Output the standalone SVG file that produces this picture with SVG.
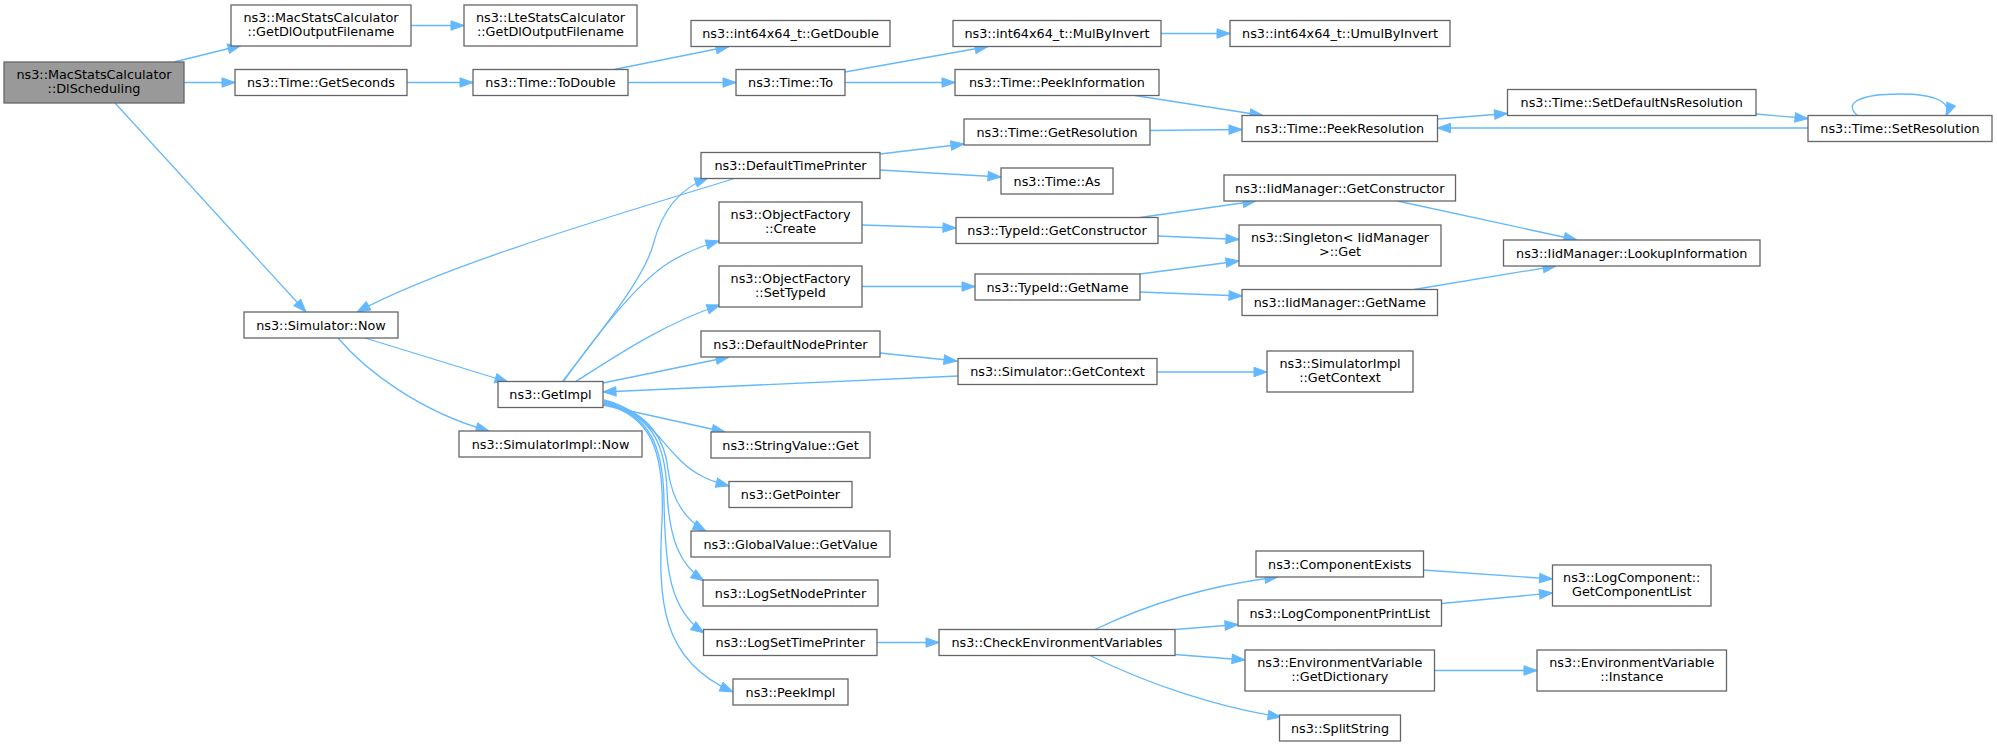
<svg xmlns="http://www.w3.org/2000/svg" width="1997" height="745" viewBox="0 0 1997 745">
<style>
.node rect{fill:#ffffff;stroke:#666666;stroke-width:1.3}
.main rect{fill:#999999;stroke:#666666;stroke-width:1.3}
text{font-family:"DejaVu Sans","Liberation Sans",sans-serif;font-size:12.8px;text-anchor:middle;fill:#000000}
.edges path{fill:none;stroke:#63b8ff;stroke-width:1.3;marker-end:url(#ah)}
</style>
<defs>
<marker id="ah" markerUnits="userSpaceOnUse" markerWidth="15" markerHeight="11" refX="13" refY="4.7" orient="auto" overflow="visible">
<path d="M0,0 L13,4.7 L0,9.4 z" fill="#63b8ff" stroke="#63b8ff" stroke-width="1"/>
</marker>
</defs>
<rect width="1997" height="745" fill="#ffffff"/>
<g class="edges">
<path d="M174,62 L241,45.5"/>
<path d="M411,25.5 L464,25.5"/>
<path d="M184,82.5 L235,82.5"/>
<path d="M407,82.5 L473,82.5"/>
<path d="M614,69.5 L729,46.5"/>
<path d="M628,82.5 L736,82.5"/>
<path d="M845,72 L988,46.5"/>
<path d="M1161,33.5 L1230,33.5"/>
<path d="M845,82.5 L955,82.5"/>
<path d="M1135,95.5 L1263,115.5"/>
<path d="M1150,130.5 L1242,129.5"/>
<path d="M1437.5,119 L1507.5,113.5"/>
<path d="M1756,114 L1808,118.5"/>
<path d="M1808,128 L1437.5,128"/>
<path d="M1858,116 C1842,103 1860,94 1900,94 C1935,94 1952,102 1946,116"/>
<path d="M880,154 L964,144"/>
<path d="M880,170 L1001,177"/>
<path d="M736,178 C640,208 450,262 357,312"/>
<path d="M562,382 C610,320 645,275 653,245 C662,210 680,188 708,178"/>
<path d="M563,382 C600,330 640,280 670,262 C690,250 705,245 719,241"/>
<path d="M575,382 C610,360 660,325 720,305"/>
<path d="M603,383 L729,357"/>
<path d="M958,376 L603,392"/>
<path d="M365,338 L508,382"/>
<path d="M338,338 C365,370 420,412 489,431"/>
<path d="M115,103 L306,312"/>
<path d="M603,405 L725,432"/>
<path d="M604,400 C640,408 660,440 680,460 C695,475 710,481 729,486"/>
<path d="M604,401 C650,412 665,440 668,470 C672,500 685,520 706,531"/>
<path d="M604,402 C650,415 665,440 667,490 C669,540 680,565 704,581"/>
<path d="M604,403 C650,415 663,445 664,500 C665,570 670,610 704,633"/>
<path d="M604,404 C650,415 665,450 662,520 C658,600 660,660 733,692"/>
<path d="M880,353 L957,361"/>
<path d="M862,225 L956,228"/>
<path d="M1140,217.5 L1256,201"/>
<path d="M1158,236 L1239,239.5"/>
<path d="M862,286.5 L975,286.5"/>
<path d="M1140,274 L1239,261"/>
<path d="M1140,292 L1242,296"/>
<path d="M1397.5,201 L1577,240"/>
<path d="M1414,289.5 L1556,266"/>
<path d="M1157,372 L1267,372"/>
<path d="M877,642.5 L939,642.5"/>
<path d="M1095,629.5 C1150,603 1210,585 1278,577"/>
<path d="M1175,629.5 L1238,624.5"/>
<path d="M1175,654.5 L1245,660"/>
<path d="M1090,655.5 C1150,685 1220,708 1281,717"/>
<path d="M1423.5,570 L1552.5,579"/>
<path d="M1441.5,603.5 L1552.5,593"/>
<path d="M1434.5,670.5 L1537,670.5"/>
</g>
<g id="n_main" class="main"><rect x="4" y="62" width="180" height="41"/><text x="94" y="79">ns3::MacStatsCalculator</text><text x="94" y="93.3">::DlScheduling</text></g>
<g id="n_mscgdof" class="node"><rect x="231" y="5" width="180" height="41"/><text x="321" y="22">ns3::MacStatsCalculator</text><text x="321" y="36.3">::GetDlOutputFilename</text></g>
<g id="n_lscgdof" class="node"><rect x="464" y="5" width="173" height="41"/><text x="550.5" y="22">ns3::LteStatsCalculator</text><text x="550.5" y="36.3">::GetDlOutputFilename</text></g>
<g id="n_getseconds" class="node"><rect x="235" y="69.5" width="172" height="26"/><text x="321" y="87">ns3::Time::GetSeconds</text></g>
<g id="n_todouble" class="node"><rect x="473" y="69.5" width="155" height="26"/><text x="550.5" y="87">ns3::Time::ToDouble</text></g>
<g id="n_getdouble" class="node"><rect x="691" y="20.5" width="199" height="26"/><text x="790.5" y="38">ns3::int64x64_t::GetDouble</text></g>
<g id="n_to" class="node"><rect x="736" y="69.5" width="109" height="26"/><text x="790.5" y="87">ns3::Time::To</text></g>
<g id="n_mulbyinvert" class="node"><rect x="953" y="20.5" width="208" height="26"/><text x="1057" y="38">ns3::int64x64_t::MulByInvert</text></g>
<g id="n_umulbyinvert" class="node"><rect x="1230" y="20.5" width="220" height="26"/><text x="1340" y="38">ns3::int64x64_t::UmulByInvert</text></g>
<g id="n_peekinfo" class="node"><rect x="955" y="69.5" width="204" height="26"/><text x="1057" y="87">ns3::Time::PeekInformation</text></g>
<g id="n_getres" class="node"><rect x="964" y="119" width="186" height="26"/><text x="1057" y="136.5">ns3::Time::GetResolution</text></g>
<g id="n_peekres" class="node"><rect x="1242" y="115.5" width="195.5" height="26"/><text x="1339.75" y="133">ns3::Time::PeekResolution</text></g>
<g id="n_setdefns" class="node"><rect x="1507.5" y="89.5" width="248.5" height="26"/><text x="1631.75" y="107">ns3::Time::SetDefaultNsResolution</text></g>
<g id="n_setres" class="node"><rect x="1808" y="115.5" width="184" height="26"/><text x="1900" y="133">ns3::Time::SetResolution</text></g>
<g id="n_dtp" class="node"><rect x="701" y="152.5" width="179" height="26"/><text x="790.5" y="170">ns3::DefaultTimePrinter</text></g>
<g id="n_as" class="node"><rect x="1001" y="168" width="112" height="26"/><text x="1057" y="185.5">ns3::Time::As</text></g>
<g id="n_iidgetctor" class="node"><rect x="1224" y="175" width="231.5" height="26"/><text x="1339.75" y="192.5">ns3::IidManager::GetConstructor</text></g>
<g id="n_ofcreate" class="node"><rect x="719" y="202" width="143" height="41"/><text x="790.5" y="219">ns3::ObjectFactory</text><text x="790.5" y="233.3">::Create</text></g>
<g id="n_tidgetctor" class="node"><rect x="956" y="217.5" width="202" height="26"/><text x="1057" y="235">ns3::TypeId::GetConstructor</text></g>
<g id="n_singleton" class="node"><rect x="1239" y="225" width="202" height="41"/><text x="1340" y="242">ns3::Singleton&lt; IidManager</text><text x="1340" y="256.3">&gt;::Get</text></g>
<g id="n_lookup" class="node"><rect x="1503.5" y="240" width="256.5" height="26"/><text x="1631.75" y="257.5">ns3::IidManager::LookupInformation</text></g>
<g id="n_ofsettypeid" class="node"><rect x="719" y="266" width="143" height="41"/><text x="790.5" y="283">ns3::ObjectFactory</text><text x="790.5" y="297.3">::SetTypeId</text></g>
<g id="n_tidgetname" class="node"><rect x="975" y="274" width="165" height="26"/><text x="1057.5" y="291.5">ns3::TypeId::GetName</text></g>
<g id="n_iidgetname" class="node"><rect x="1242" y="289.5" width="195.5" height="26"/><text x="1339.75" y="307">ns3::IidManager::GetName</text></g>
<g id="n_simnow" class="node"><rect x="244" y="312" width="154" height="26"/><text x="321" y="329.5">ns3::Simulator::Now</text></g>
<g id="n_dnp" class="node"><rect x="701" y="331" width="179" height="26"/><text x="790.5" y="348.5">ns3::DefaultNodePrinter</text></g>
<g id="n_simgetctx" class="node"><rect x="958" y="358.5" width="199" height="26"/><text x="1057.5" y="376">ns3::Simulator::GetContext</text></g>
<g id="n_simimplgetctx" class="node"><rect x="1267" y="351" width="146" height="41"/><text x="1340" y="368">ns3::SimulatorImpl</text><text x="1340" y="382.3">::GetContext</text></g>
<g id="n_getimpl" class="node"><rect x="498" y="381.5" width="105" height="26"/><text x="550.5" y="399">ns3::GetImpl</text></g>
<g id="n_simimplnow" class="node"><rect x="459" y="431" width="183" height="26"/><text x="550.5" y="448.5">ns3::SimulatorImpl::Now</text></g>
<g id="n_stringvalue" class="node"><rect x="711" y="432" width="159" height="26"/><text x="790.5" y="449.5">ns3::StringValue::Get</text></g>
<g id="n_getpointer" class="node"><rect x="729" y="481.5" width="123" height="26"/><text x="790.5" y="499">ns3::GetPointer</text></g>
<g id="n_globalvalue" class="node"><rect x="691" y="531" width="199" height="26"/><text x="790.5" y="548.5">ns3::GlobalValue::GetValue</text></g>
<g id="n_compexists" class="node"><rect x="1256" y="551" width="167.5" height="26"/><text x="1339.75" y="568.5">ns3::ComponentExists</text></g>
<g id="n_logcomplist" class="node"><rect x="1552.5" y="565" width="158.5" height="41"/><text x="1631.75" y="582">ns3::LogComponent::</text><text x="1631.75" y="596.3">GetComponentList</text></g>
<g id="n_lognodeprinter" class="node"><rect x="703" y="580" width="175" height="26"/><text x="790.5" y="597.5">ns3::LogSetNodePrinter</text></g>
<g id="n_logcompprintlist" class="node"><rect x="1238" y="600" width="203.5" height="26"/><text x="1339.75" y="617.5">ns3::LogComponentPrintList</text></g>
<g id="n_logtimeprinter" class="node"><rect x="703.5" y="629.5" width="173.5" height="26"/><text x="790.25" y="647">ns3::LogSetTimePrinter</text></g>
<g id="n_checkenv" class="node"><rect x="939" y="629.5" width="236" height="26"/><text x="1057" y="647">ns3::CheckEnvironmentVariables</text></g>
<g id="n_envgetdict" class="node"><rect x="1245" y="650" width="189.5" height="41"/><text x="1339.75" y="667">ns3::EnvironmentVariable</text><text x="1339.75" y="681.3">::GetDictionary</text></g>
<g id="n_envinstance" class="node"><rect x="1537" y="650" width="189.5" height="41"/><text x="1631.75" y="667">ns3::EnvironmentVariable</text><text x="1631.75" y="681.3">::Instance</text></g>
<g id="n_peekimpl" class="node"><rect x="733" y="679" width="115" height="26"/><text x="790.5" y="696.5">ns3::PeekImpl</text></g>
<g id="n_splitstring" class="node"><rect x="1279.5" y="715" width="121" height="26"/><text x="1340" y="732.5">ns3::SplitString</text></g>
</svg>
